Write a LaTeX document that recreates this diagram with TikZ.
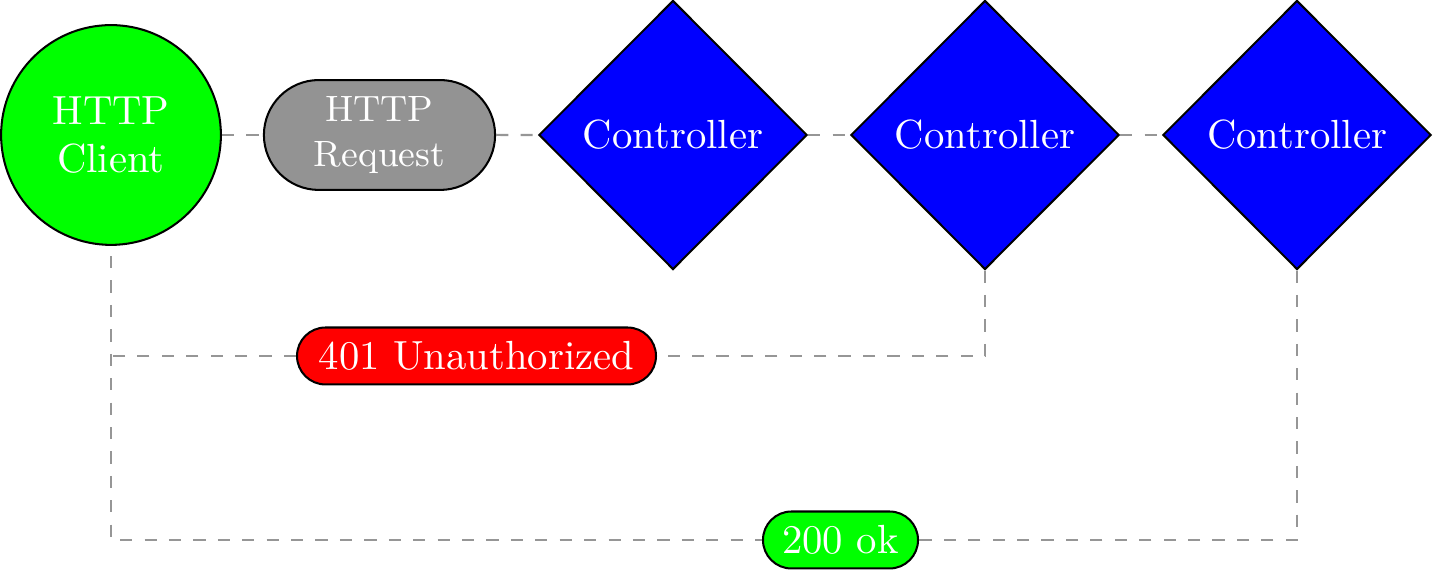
\documentclass[tikz,border=0pt]{standalone}
\usetikzlibrary{shapes.geometric,shapes.misc}
\definecolor{reqgray}{RGB}{147,147,147}
\definecolor{linegray}{RGB}{150,150,150}
\tikzset{
  base/.style={draw=black, line width=0.5pt, text=white},
  clientnode/.style={base, circle, fill=green, minimum size=54pt, inner sep=1pt, align=center},
  reqnode/.style={base, rounded rectangle, fill=reqgray, minimum width=58.8pt, minimum height=27pt, inner sep=1pt, align=center, font=\small},
  ctrl/.style={base, diamond, fill=blue, minimum width=65.9pt, minimum height=66.1pt, inner sep=1pt},
  resp/.style={base, rounded rectangle, minimum height=14pt, inner sep=1pt},
  conn/.style={draw=linegray, dashed, line width=0.5pt}
}
\begin{document}
\begin{tikzpicture}[x=0.2457pt, y=-0.2457pt]
\useasboundingbox (0,0) rectangle (1433,570);
\node[clientnode] (client) at (111,135) {HTTP\\Client};
\node[reqnode] (req) at (379.5,135) {HTTP\\Request};
\node[ctrl] (c1) at (673,135) {Controller};
\node[ctrl] (c2) at (985,135) {Controller};
\node[ctrl] (c3) at (1297,135) {Controller};
\node[resp, fill=red, minimum width=90.2pt] (unauth) at (476.5,356) {401 Unauthorized};
\node[resp, fill=green, minimum width=40.1pt] (ok) at (840.5,540) {200 ok};
\draw[conn] (client) -- (req);
\draw[conn] (req) -- (c1);
\draw[conn] (c1) -- (c2);
\draw[conn] (c2) -- (c3);
\draw[conn, shorten <=2.5pt] (client.south) |- (ok.west);
\draw[conn] (unauth.west) -- (unauth.west -| client.south);
\draw[conn] (c2.south) |- (unauth.east);
\draw[conn] (c3.south) |- (ok.east);
\end{tikzpicture}
\end{document}
